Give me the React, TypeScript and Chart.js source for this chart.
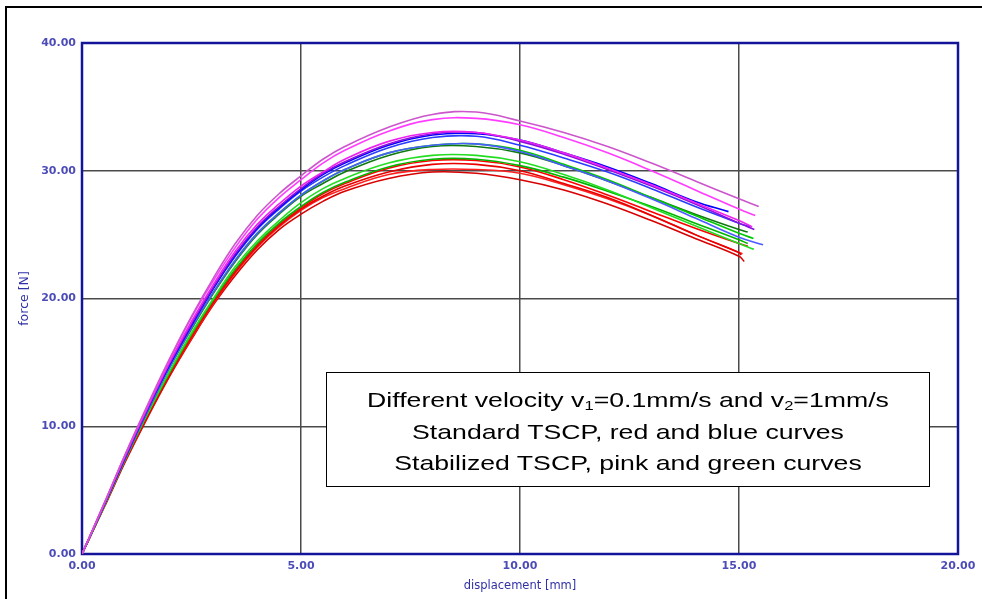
import React, { useEffect, useRef } from "react";
import { Chart, registerables } from "chart.js";

Chart.register(...registerables);

// displacement grid [mm] shared by all curves
const X_GRID = [0, 0.5, 1, 1.5, 2, 2.5, 3, 3.5, 4, 4.5, 5, 5.5, 6, 7, 8, 9, 10, 11, 12, 13, 14, 15];

const X_TICKS = [0, 5, 10, 15, 20];
const Y_TICKS = [0, 10, 20, 30, 40];

// force [N] values
const PINK_1 = [0, 3.9, 7.9, 11.7, 15.3, 18.6, 21.6, 24.3, 26.5, 28.2, 29.6, 30.9, 31.9, 33.4, 34.4, 34.6, 33.9, 33.0, 31.9, 30.6, 29.2, 27.8];
const PINK_1_END = [15.45, 27.2];
const PINK_2 = [0, 3.9, 7.9, 11.6, 15.2, 18.5, 21.4, 24.0, 26.2, 27.9, 29.3, 30.6, 31.6, 33.1, 34.0, 34.1, 33.6, 32.6, 31.4, 30.0, 28.5, 27.0];
const PINK_2_END = [15.37, 26.5];
const PINK_3 = [0, 3.9, 7.8, 11.5, 15.0, 18.2, 21.1, 23.7, 25.8, 27.4, 28.8, 29.9, 30.9, 32.3, 33.0, 33.0, 32.4, 31.4, 30.2, 28.9, 27.5, 26.1];
const PINK_3_END = [15.3, 25.6];
const VIOLET_1 = [0, 3.8, 7.7, 11.4, 14.9, 18.0, 20.9, 23.5, 25.6, 27.2, 28.6, 29.8, 30.7, 32.1, 32.9, 33.0, 32.3, 31.3, 30.1, 28.8, 27.4, 25.9];
const VIOLET_1_END = [15.35, 25.4];
const BLUE_1 = [0, 3.8, 7.7, 11.4, 14.8, 17.9, 20.8, 23.4, 25.5, 27.1, 28.5, 29.7, 30.6, 32.0, 32.8, 32.9, 32.4, 31.4, 30.3, 29.0, 27.6];
const BLUE_1_END = [14.76, 26.8];
const BLUE_2 = [0, 3.8, 7.6, 11.3, 14.8, 17.9, 20.8, 23.3, 25.4, 27.0, 28.4, 29.5, 30.4, 31.8, 32.6, 32.7, 32.0, 31.0, 29.9, 28.6, 27.2, 25.9];
const BLUE_2_END = [15.25, 25.6];
const BLUE_3 = [0, 3.8, 7.6, 11.2, 14.6, 17.7, 20.5, 23.0, 25.1, 26.7, 28.1, 29.2, 30.1, 31.4, 32.0, 32.1, 31.5, 30.4, 29.2, 27.8, 26.3, 24.8];
const BLUE_3_END = [15.55, 24.2];
const GREEN_1 = [0, 3.8, 7.6, 11.2, 14.6, 17.7, 20.5, 23.0, 25.1, 26.7, 28.1, 29.2, 30.1, 31.4, 32.0, 32.1, 31.6, 30.5, 29.3, 27.9, 26.5, 25.1];
const GREEN_1_END = [15.33, 24.7];
const GREEN_2 = [0, 3.8, 7.6, 11.2, 14.6, 17.6, 20.4, 22.9, 25.0, 26.6, 28.0, 29.0, 29.9, 31.2, 31.9, 31.9, 31.4, 30.4, 29.2, 27.9, 26.6, 25.4];
const GREEN_2_END = [15.2, 25.2];
const GREEN_3 = [0, 3.7, 7.5, 11.0, 14.3, 17.3, 20.0, 22.5, 24.5, 26.1, 27.5, 28.6, 29.4, 30.6, 31.2, 31.2, 30.7, 29.7, 28.5, 27.1, 25.7, 24.3];
const GREEN_3_END = [15.34, 23.85];
const GREEN_4 = [0, 3.7, 7.5, 11.0, 14.2, 17.2, 19.9, 22.3, 24.3, 25.9, 27.2, 28.3, 29.1, 30.3, 30.9, 30.9, 30.4, 29.5, 28.4, 27.2, 25.9, 24.6];
const GREEN_4_END = [15.2, 24.3];
const RED_1 = [0, 3.7, 7.4, 10.9, 14.1, 17.0, 19.8, 22.2, 24.2, 25.8, 27.1, 28.2, 29.0, 30.2, 30.8, 30.8, 30.3, 29.3, 28.1, 26.8, 25.5, 24.3];
const RED_1_END = [15.2, 24.1];
const RED_2 = [0, 3.7, 7.4, 10.8, 14.0, 17.0, 19.7, 22.1, 24.1, 25.7, 27.0, 28.0, 28.8, 29.9, 30.5, 30.5, 30.0, 29.0, 27.9, 26.5, 25.0, 23.6];
const RED_2_END = [15.05, 23.4];
const RED_3 = [0, 3.7, 7.4, 10.8, 14.0, 16.9, 19.6, 22.0, 24.0, 25.6, 26.9, 27.9, 28.6, 29.7, 30.1, 30.1, 29.8, 28.9, 27.8, 26.5, 25.0, 23.6];
const RED_3_END = [15.08, 23.5];
const RED_4 = [0, 3.6, 7.3, 10.7, 13.9, 16.8, 19.5, 21.8, 23.8, 25.4, 26.6, 27.6, 28.4, 29.4, 29.9, 29.8, 29.3, 28.5, 27.4, 26.1, 24.7, 23.3];
const RED_4_END = [15.12, 22.9];

const SERIES = [
  { label: "stabilized 1", color: "#cc55cc", values: PINK_1, end: PINK_1_END },
  { label: "stabilized 2", color: "#ff3cff", values: PINK_2, end: PINK_2_END },
  { label: "stabilized 3", color: "#ee22ee", values: PINK_3, end: PINK_3_END },
  { label: "standard 1", color: "#8a10dd", values: VIOLET_1, end: VIOLET_1_END },
  { label: "standard 2", color: "#0000ff", values: BLUE_1, end: BLUE_1_END },
  { label: "standard 3", color: "#2a3cff", values: BLUE_2, end: BLUE_2_END },
  { label: "standard 4", color: "#4a5cff", values: BLUE_3, end: BLUE_3_END },
  { label: "stabilized 4", color: "#00c800", values: GREEN_1, end: GREEN_1_END },
  { label: "stabilized 5", color: "#107a10", values: GREEN_2, end: GREEN_2_END },
  { label: "stabilized 6", color: "#22dd22", values: GREEN_3, end: GREEN_3_END },
  { label: "stabilized 7", color: "#00b400", values: GREEN_4, end: GREEN_4_END },
  { label: "standard 5", color: "#ff0000", values: RED_1, end: RED_1_END },
  { label: "standard 6", color: "#e80000", values: RED_2, end: RED_2_END },
  { label: "standard 7", color: "#ff2020", values: RED_3, end: RED_3_END },
  { label: "standard 8", color: "#d80000", values: RED_4, end: RED_4_END },
];

const TICK_COLOR = "#4c4cb8";
const TITLE_COLOR = "#3030a8";

const framePlugin = {
  id: "frame",
  beforeDatasetsDraw(chart: any) {
    const { ctx, chartArea } = chart;
    const { left, top, right, bottom } = chartArea;
    ctx.save();
    ctx.strokeStyle = "#14149a";
    ctx.lineWidth = 2.5;
    ctx.strokeRect(left, top, right - left, bottom - top);
    ctx.restore();
  },
};

export default function App() {
  const ref = useRef<HTMLCanvasElement>(null);

  useEffect(() => {
    if (!ref.current) return;
    const datasets = SERIES.map((s) => {
      const pts = s.values.map((v, i) => ({ x: X_GRID[i], y: v }));
      pts.push({ x: s.end[0], y: s.end[1] });
      return {
        label: s.label,
        data: pts,
        borderColor: s.color,
        backgroundColor: s.color,
        borderWidth: 1.6,
        pointRadius: 0,
        fill: false,
        tension: 0.4,
      };
    });
    const chart = new Chart(ref.current, {
      type: "line",
      data: { datasets },
      options: {
        responsive: false,
        animation: false,
        layout: { padding: { left: 10, top: 43, right: 24, bottom: 0 } },
        plugins: { legend: { display: false }, tooltip: { enabled: false } },
        scales: {
          x: {
            type: "linear",
            min: X_TICKS[0],
            max: X_TICKS[X_TICKS.length - 1],
            afterBuildTicks: (scale: any) => {
              scale.ticks = X_TICKS.map((v) => ({ value: v }));
            },
            afterFit: (scale: any) => {
              scale.height = 45;
            },
            ticks: {
              padding: 6,
              maxRotation: 0,
              color: TICK_COLOR,
              font: { family: "DejaVu Sans", size: 11, weight: "bold" },
              callback: (v: any) => Number(v).toFixed(2),
            },
            grid: { color: "#4a4a4a", lineWidth: 1.5, drawTicks: false },
            border: { display: false },
            title: {
              display: true,
              text: "displacement [mm]",
              color: TITLE_COLOR,
              font: { family: "DejaVu Sans", size: 11.5 },
              padding: { top: 0, bottom: 6 },
            },
          },
          y: {
            type: "linear",
            min: Y_TICKS[0],
            max: Y_TICKS[Y_TICKS.length - 1],
            afterBuildTicks: (scale: any) => {
              scale.ticks = Y_TICKS.map((v) => ({ value: v }));
            },
            afterFit: (scale: any) => {
              scale.width = 72;
            },
            ticks: {
              padding: 6,
              color: TICK_COLOR,
              font: { family: "DejaVu Sans", size: 11, weight: "bold" },
              callback: (v: any) => Number(v).toFixed(2),
            },
            grid: { color: "#4a4a4a", lineWidth: 1.5, drawTicks: false },
            border: { display: false },
            title: {
              display: true,
              text: "force [N]",
              color: TITLE_COLOR,
              font: { family: "DejaVu Sans", size: 12.5 },
              padding: { top: 7, bottom: 0 },
            },
          },
        },
      },
      plugins: [framePlugin],
    });
    return () => chart.destroy();
  }, []);

  const lineStyle: React.CSSProperties = {
    position: "absolute",
    left: 0,
    width: "100%",
    height: 32,
    lineHeight: "32px",
    textAlign: "center",
    transform: "scaleX(1.27)",
    transformOrigin: "center",
    whiteSpace: "nowrap",
  };
  const subStyle: React.CSSProperties = { fontSize: "0.62em", verticalAlign: "-0.25em" };

  return (
    <div style={{ position: "fixed", left: 0, top: 0, width: 982, height: 599, background: "#fff", overflow: "hidden" }}>
      <div
        style={{
          position: "absolute",
          left: 5,
          top: 6,
          width: 1000,
          height: 700,
          borderLeft: "2px solid #000",
          borderTop: "2px solid #000",
        }}
      />
      <canvas ref={ref} width={982} height={599} style={{ position: "absolute", left: 0, top: 0, width: 982, height: 599 }} />
      <div
        style={{
          position: "absolute",
          left: 326,
          top: 372,
          width: 604,
          height: 115,
          boxSizing: "border-box",
          border: "1.5px solid #000",
          background: "#fff",
          fontFamily: "'Liberation Sans', Arial, sans-serif",
          fontSize: 21,
          color: "#000",
        }}
      >
        <div style={{ ...lineStyle, top: 11 }}>
          Different velocity v<span style={subStyle}>1</span>=0.1mm/s and v<span style={subStyle}>2</span>=1mm/s
        </div>
        <div style={{ ...lineStyle, top: 43 }}>Standard TSCP, red and blue curves</div>
        <div style={{ ...lineStyle, top: 74 }}>Stabilized TSCP, pink and green curves</div>
      </div>
    </div>
  );
}
